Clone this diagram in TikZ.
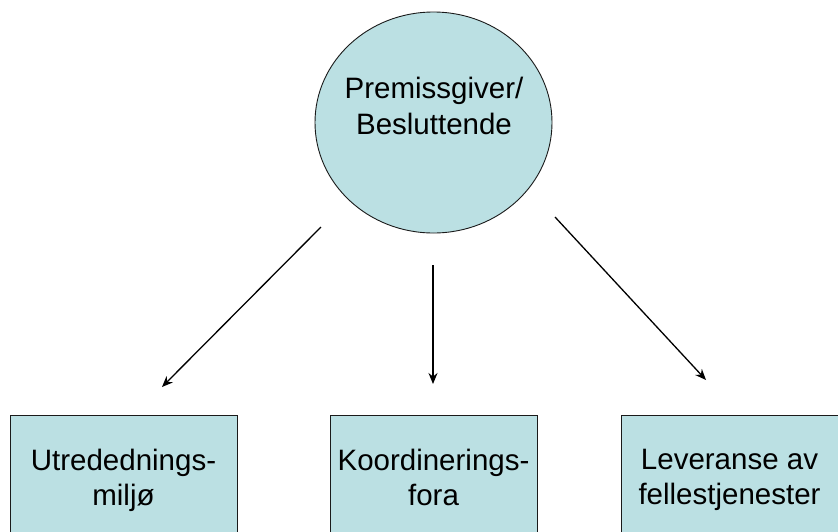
\documentclass[tikz,border=0pt]{standalone}
\usepackage{fontspec}
\setmainfont{Liberation Sans}
\usetikzlibrary{arrows.meta,shapes.geometric}
\definecolor{fillc}{HTML}{BBE0E3}
\definecolor{edgec}{HTML}{1A1A1A}
\begin{document}
\begin{tikzpicture}[x=1pt,y=-1pt,
  bubble/.style={draw=edgec, line width=0.9pt, fill=fillc, ellipse, inner sep=0pt, minimum width=237pt, minimum height=221pt},
  btext/.style={align=center, inner sep=0pt, font=\fontsize{29.5pt}{36pt}\selectfont},
  boxnode/.style={draw=edgec, line width=0.9pt, fill=fillc, anchor=north, align=center, inner xsep=0pt, inner ysep=33.5pt, font=\fontsize{29.5pt}{35.5pt}\selectfont},
  arr/.style={line width=1.3pt, -{Stealth[length=11pt,width=9pt]}}]
\useasboundingbox (0,0) rectangle (838,531);
\clip (0,0) rectangle (838,531);
\node[bubble] (top) at (433.5,122.5) {};
\node[btext] (toptext) at (434,105.5) {Premissgiver/\\Besluttende};
\node[boxnode, minimum width=227pt] (b1) at (123.5,415) {Utredednings-\\miljø};
\node[boxnode, minimum width=207pt] (b2) at (433.5,415) {Koordinerings-\\fora};
\node[boxnode, minimum width=217pt] (b3) at (729.5,415) {Leveranse av\\fellestjenester};
\coordinate (s1) at (321,227);
\coordinate (e1) at (162,387);
\coordinate (s2) at (433,265);
\coordinate (e2) at (433,384);
\coordinate (s3) at (555,217);
\coordinate (e3) at (706,380);
\draw[arr] (s1) -- (e1);
\draw[arr] (s2) -- (e2);
\draw[arr] (s3) -- (e3);
\end{tikzpicture}
\end{document}
